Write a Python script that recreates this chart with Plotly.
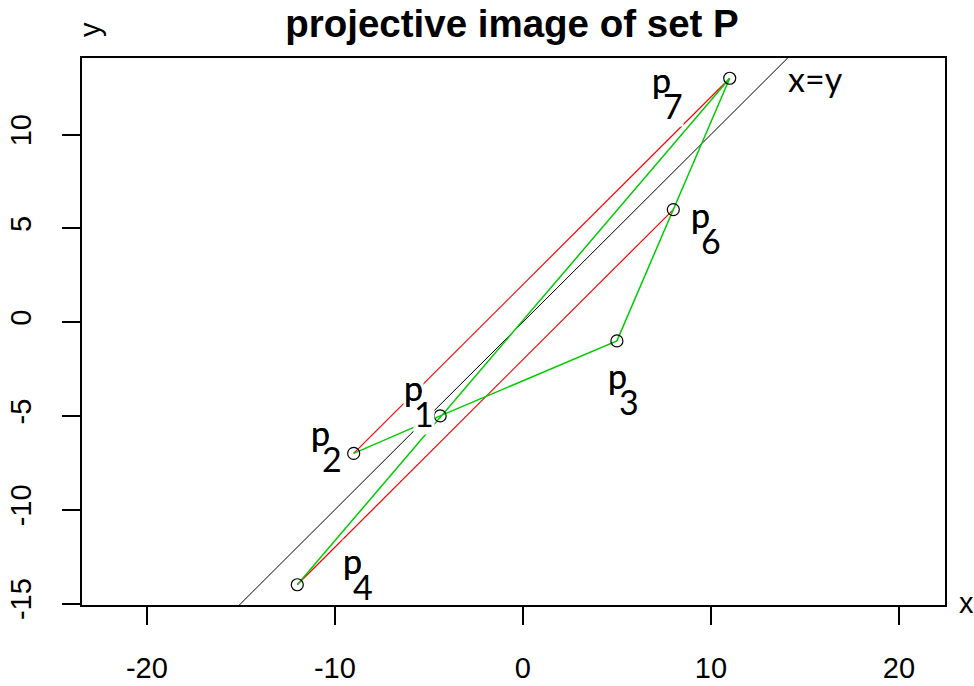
import plotly.graph_objects as go

# ---- data ----
pt_names = ["1", "2", "3", "4", "6", "7"]
pt_x = [-4.4, -9, 5, -12, 8, 11]
pt_y = [-5, -7, -1, -14, 6, 13]

green_order = ["2", "1", "3", "6", "7", "4"]
red_pairs = [("2", "7"), ("4", "6")]
diag_x = [-16, 15]
diag_y = [-16, 15]

x_ticks = [-20, -10, 0, 10, 20]
x_tick_text = ["-20", "-10", "0", "10", "20"]
y_ticks = [-15, -10, -5, 0, 5, 10]
y_tick_text = ["-15", "-10", "-5", "0", "5", "10"]

title_text = "projective image of set P"

# ---- styling / label offsets (pixels) ----
label_offsets = {  # (dx, dy) of "p" relative to point, screen px (dy down)
    "1": (-27, -28), "2": (-33, -21), "3": (1, 35),
    "4": (55, -24), "6": (27, 5), "7": (-68, 1),
}
sub_mask = {"1": True, "2": True, "3": True, "4": False, "6": True, "7": True}
sub_dx, sub_dy = 11, 26

lookup = {n: (x, y) for n, x, y in zip(pt_names, pt_x, pt_y)}

W, H = 974, 686
L, R, T, B = 82, 29, 58, 81
pw, ph = W - L - R, H - T - B


def px_to_paper(xp, yp):
    return (xp - L) / pw, (H - B - yp) / ph


fig = go.Figure()

# x = y line
fig.add_trace(go.Scatter(x=diag_x, y=diag_y, mode="lines",
                         line=dict(color="black", width=1), hoverinfo="skip"))

# red parallel lines
for a, b in red_pairs:
    fig.add_trace(go.Scatter(x=[lookup[a][0], lookup[b][0]],
                             y=[lookup[a][1], lookup[b][1]],
                             mode="lines", line=dict(color="#FF0000", width=1.2)))

# green polygon path
fig.add_trace(go.Scatter(x=[lookup[n][0] for n in green_order],
                         y=[lookup[n][1] for n in green_order],
                         mode="lines", line=dict(color="#00CD00", width=1.5)))

# points
fig.add_trace(go.Scatter(x=pt_x, y=pt_y, mode="markers",
                         marker=dict(symbol="circle-open", size=12,
                                     color="black", line=dict(width=1.2))))

annotations = []
lab_font = dict(family="Lato, Noto Sans, sans-serif", size=34, color="black")


def p_ann(n, bg):
    dx, dy = label_offsets[n]
    x, y = lookup[n]
    return dict(x=x, y=y, xref="x", yref="y", text="p",
                showarrow=False, font=lab_font,
                bgcolor="white" if bg else "rgba(0,0,0,0)",
                borderpad=0, xanchor="center", yanchor="middle",
                xshift=dx, yshift=-dy)


# "p" masks, then subscripts (with masks), then "p" glyphs again on top
for n in pt_names:
    annotations.append(p_ann(n, True))
for n in pt_names:
    dx, dy = label_offsets[n]
    x, y = lookup[n]
    annotations.append(dict(x=x, y=y, xref="x", yref="y", text=n,
                            showarrow=False, font=lab_font,
                            bgcolor="white" if sub_mask[n] else "rgba(0,0,0,0)",
                            borderpad=0, xanchor="center", yanchor="middle",
                            xshift=dx + sub_dx, yshift=-(dy + sub_dy)))
for n in pt_names:
    annotations.append(p_ann(n, False))

# x=y label
xx, yy = px_to_paper(815, 78)
annotations.append(dict(x=xx, y=yy, xref="paper", yref="paper",
                        text="x=y", showarrow=False, font=lab_font,
                        xanchor="center", yanchor="middle"))

ax_font = dict(family="Liberation Sans, Arial, sans-serif", size=29, color="black")
xt, yt = px_to_paper(966, 603)
annotations.append(dict(x=xt, y=yt, xref="paper", yref="paper", text="x",
                        showarrow=False, font=ax_font,
                        xanchor="center", yanchor="middle"))
yx, yy2 = px_to_paper(90, 30)
annotations.append(dict(x=yx, y=yy2, xref="paper", yref="paper", text="y",
                        showarrow=False, font=ax_font, textangle=-90,
                        xanchor="center", yanchor="middle"))

tick_font = dict(family="Liberation Sans, Arial, sans-serif", size=29, color="black")

fig.update_layout(
    width=W, height=H,
    margin=dict(l=L, r=R, t=T, b=B, pad=0, autoexpand=False),
    paper_bgcolor="white", plot_bgcolor="white",
    showlegend=False,
    annotations=annotations,
    title=dict(text="<b>" + title_text + "</b>",
               x=512 / W, xanchor="center",
               y=1 - 24 / H, yanchor="middle",
               font=dict(family="Liberation Sans, Arial, sans-serif", size=38.5, color="black")),
    xaxis=dict(range=[-23.45, 22.45], tickvals=x_ticks, ticktext=x_tick_text,
               ticks="outside", ticklen=18, tickwidth=1.5, tickcolor="black",
               showline=True, linecolor="black", linewidth=1.5, mirror=True,
               showgrid=False, zeroline=False, tickfont=tick_font,
               ticklabelstandoff=18),
    yaxis=dict(range=[-15.08, 14.08], tickvals=y_ticks, ticktext=y_tick_text,
               ticks="outside", ticklen=18, tickwidth=1.5, tickcolor="black",
               showline=True, linecolor="black", linewidth=1.5, mirror=True,
               showgrid=False, zeroline=False, tickfont=tick_font,
               tickangle=-90, ticklabelstandoff=20),
)

fig.write_html("out.html",
               config={"displayModeBar": False},
               post_script="document.body.style.margin='0';document.body.style.padding='0';")
